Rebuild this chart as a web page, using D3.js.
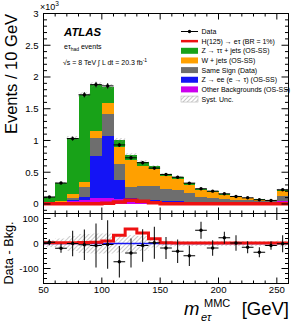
<!DOCTYPE html>
<html>
<head>
<meta charset="utf-8">
<script src="https://cdn.jsdelivr.net/npm/d3@7/dist/d3.min.js"></script>
<style>
body { margin: 0; background: #fff; }
text { font-family: "Liberation Sans", Arial, Helvetica, sans-serif; fill: #000; }
</style>
</head>
<body>
<svg id="chart" width="294" height="324"></svg>
<script>
// bins of m_etau (lower edges, 10 GeV wide), last bin holds the overflow
var binLow = [50, 60, 70, 80, 90, 100, 110, 120, 130, 140, 150, 160, 170, 180, 190, 200, 210, 220, 230, 240, 250];
var binWidth = 10;

// upper panel, events per bin
var dataCounts = [110, 330, 1030, 1720, 1880, 1860, 930, 727, 650, 565, 465, 422, 328, 240, 202, 160, 118, 97, 66, 55, 224];
var otherBkg   = [8, 12, 40, 70, 90, 100, 82, 60, 45, 40, 35, 32, 30, 27, 24, 22, 20, 18, 16, 14, 45];
var zeeBkg     = [2, 5, 15, 45, 670, 970, 290, 30, 20, 15, 10, 8, 6, 5, 4, 3, 3, 2, 2, 2, 6];
var sameSign   = [8, 15, 45, 157, 280, 340, 263, 175, 225, 225, 190, 180, 144, 78, 72, 60, 47, 40, 32, 29, 80];
var wjets      = [5, 15, 60, 68, 115, 185, 262, 430, 310, 270, 200, 178, 125, 108, 85, 61, 40, 30, 16, 10, 77];
var ztautau    = [85, 280, 880, 1380, 720, 255, 105, 70, 60, 45, 35, 30, 25, 20, 15, 12, 10, 8, 6, 5, 20];
var signal     = [3, 3, 3, 4, 5, 10, 33, 58, 42, 19, 3, 2, 2, 2, 2, 2, 2, 2, 2, 2, 2];
var systUnc    = [14, 20, 30, 38, 40, 40, 36, 34, 30, 16, 11, 11, 10, 10, 10, 10, 10, 10, 10, 10, 12];

// lower panel, data minus background
var diffValues = [5, -19, 0, -5, -8, -4, -73, -38, -8, 3, -18, -31, -49, 53, -18, 23, 2, -15, -35, -8, -1];
var diffErrors = [12, 18, 51, 61, 88, 97, 63, 58, 65, 64, 44, 47, 41, 34, 31, 24, 31, 24, 20, 17, 34];

var xTicks = [50, 100, 150, 200, 250];
var yTopTicks = [0, 500, 1000, 1500, 2000, 2500, 3000];
var yTopLabels = ['0', '0.5', '1', '1.5', '2', '2.5', '3'];
var yBotTicks = [-100, 0, 100];

var layers = ['other', 'zee', 'ss', 'wjets', 'ztt'];
var colors = { other: '#cc00ee', zee: '#1414f5', ss: '#6e6e6e', wjets: '#ffa000', ztt: '#18a218' };

var svg = d3.select('#chart');

var x = d3.scaleLinear().domain([50, 260]).range([43.5, 288.5]);
var yTop = d3.scaleLinear().domain([-150, 3000]).range([213.5, 13.5]);
var yBot = d3.scaleLinear().domain([-160, 120]).range([283.5, 213.5]);

var defs = svg.append('defs');
defs.append('pattern').attr('id', 'hatch').attr('width', 3).attr('height', 3)
  .attr('patternUnits', 'userSpaceOnUse').attr('patternTransform', 'rotate(45)')
  .append('line').attr('x1', 0).attr('y1', 0).attr('x2', 0).attr('y2', 3)
  .attr('stroke', '#777').attr('stroke-width', 0.8);
defs.append('clipPath').attr('id', 'clipTop').append('rect')
  .attr('x', 43.5).attr('y', 13.5).attr('width', 245).attr('height', 200);
defs.append('clipPath').attr('id', 'clipBot').append('rect')
  .attr('x', 43.5).attr('y', 213.5).attr('width', 245).attr('height', 70);

// ---- upper panel ----
var rows = binLow.map(function(b, i) {
  return { bin: b, other: otherBkg[i], zee: zeeBkg[i], ss: sameSign[i], wjets: wjets[i], ztt: ztautau[i] };
});
var stacked = d3.stack().keys(layers)(rows);
var upper = svg.append('g').attr('clip-path', 'url(#clipTop)');

upper.selectAll('g.layer').data(stacked).enter().append('g')
  .attr('class', 'layer')
  .attr('fill', function(d) { return colors[d.key]; })
  .selectAll('rect').data(function(d) { return d; }).enter().append('rect')
  .attr('x', function(d) { return x(d.data.bin); })
  .attr('width', function(d) { return x(d.data.bin + binWidth) - x(d.data.bin); })
  .attr('y', function(d) { return yTop(d[1]); })
  .attr('height', function(d) { return yTop(d[0]) - yTop(d[1]); })
  .attr('shape-rendering', 'crispEdges');

var totals = stacked[stacked.length - 1].map(function(d) { return d[1]; });

upper.selectAll('rect.syst').data(binLow).enter().append('rect')
  .attr('class', 'syst')
  .attr('x', function(b) { return x(b); })
  .attr('width', x(60) - x(50))
  .attr('y', function(b, i) { return yTop(totals[i] + systUnc[i]); })
  .attr('height', function(b, i) { return yTop(totals[i] - systUnc[i]) - yTop(totals[i] + systUnc[i]); })
  .attr('fill', 'url(#hatch)');

function stepLine(values, yScale) {
  var pts = [];
  binLow.forEach(function(b, i) {
    pts.push([x(b), yScale(values[i])]);
    pts.push([x(b + binWidth), yScale(values[i])]);
  });
  return d3.line()(pts);
}

upper.append('path').attr('d', stepLine(signal, yTop))
  .attr('fill', 'none').attr('stroke', '#ee1111').attr('stroke-width', 3.5);

function drawPoints(g, values, errors, yScale) {
  var pts = g.selectAll('g.pt').data(binLow).enter().append('g').attr('class', 'pt');
  pts.append('line')
    .attr('x1', function(b) { return x(b); })
    .attr('x2', function(b) { return x(b + binWidth); })
    .attr('y1', function(b, i) { return yScale(values[i]); })
    .attr('y2', function(b, i) { return yScale(values[i]); });
  pts.append('line')
    .attr('x1', function(b) { return x(b + binWidth / 2); })
    .attr('x2', function(b) { return x(b + binWidth / 2); })
    .attr('y1', function(b, i) { return yScale(values[i] - errors[i]); })
    .attr('y2', function(b, i) { return yScale(values[i] + errors[i]); });
  pts.selectAll('line').attr('stroke', '#000').attr('stroke-width', 1);
  pts.append('circle')
    .attr('cx', function(b) { return x(b + binWidth / 2); })
    .attr('cy', function(b, i) { return yScale(values[i]); })
    .attr('r', 1.7).attr('fill', '#000');
}

drawPoints(upper, dataCounts, dataCounts.map(function(n) { return Math.sqrt(n); }), yTop);

// ---- lower panel ----
var lower = svg.append('g').attr('clip-path', 'url(#clipBot)');
lower.selectAll('rect.syst').data(binLow).enter().append('rect')
  .attr('x', function(b) { return x(b); })
  .attr('width', x(60) - x(50))
  .attr('y', function(b, i) { return yBot(systUnc[i]); })
  .attr('height', function(b, i) { return yBot(-systUnc[i]) - yBot(systUnc[i]); })
  .attr('fill', 'url(#hatch)');
lower.append('line').attr('x1', x(50)).attr('x2', x(260)).attr('y1', yBot(0)).attr('y2', yBot(0))
  .attr('stroke', '#1414f5').attr('stroke-width', 1.5);
lower.append('path').attr('d', stepLine(signal, yBot))
  .attr('fill', 'none').attr('stroke', '#ee1111').attr('stroke-width', 3);
drawPoints(lower, diffValues, diffErrors, yBot);

// ---- frames and ticks ----
function frame(y0, y1) {
  svg.append('rect').attr('x', 43.5).attr('y', y0).attr('width', 245).attr('height', y1 - y0)
    .attr('fill', 'none').attr('stroke', '#000').attr('stroke-width', 1);
}
frame(13.5, 213.5);
frame(213.5, 283.5);

var tickG = svg.append('g').attr('stroke', '#000').attr('stroke-width', 1);
function xTicksAt(yEdge, dir) {
  d3.range(50, 261, 10).forEach(function(v) {
    var len = v % 50 === 0 ? 6 : 3;
    tickG.append('line').attr('x1', x(v)).attr('x2', x(v))
      .attr('y1', yEdge).attr('y2', yEdge + dir * len);
  });
}
xTicksAt(13.5, 1);
xTicksAt(213.5, -1);
xTicksAt(214, 1);
xTicksAt(283.5, -1);

function yTicksAt(scale, lo, hi, step, majorStep) {
  d3.range(lo, hi + 1, step).forEach(function(v) {
    var len = v % majorStep === 0 ? 7 : 3.5;
    tickG.append('line').attr('x1', 43.5).attr('x2', 43.5 + len).attr('y1', scale(v)).attr('y2', scale(v));
    tickG.append('line').attr('x1', 288.5).attr('x2', 288.5 - len).attr('y1', scale(v)).attr('y2', scale(v));
  });
}
yTicksAt(yTop, -100, 3000, 100, 500);
yTicksAt(yBot, -160, 120, 20, 100);

svg.selectAll('text.ytop').data(yTopTicks).enter().append('text')
  .attr('x', 38.5).attr('y', function(v) { return yTop(v) + 3.4; })
  .attr('text-anchor', 'end').style('font-size', '9.6px')
  .text(function(v, i) { return yTopLabels[i]; });
svg.append('text').attr('x', 40).attr('y', 10).style('font-size', '9px')
  .html('&#215;10<tspan dy="-4" style="font-size:6.5px">3</tspan>');

svg.selectAll('text.ybot').data(yBotTicks).enter().append('text')
  .attr('x', 38.5).attr('y', function(v) { return yBot(v) + 3.4; })
  .attr('text-anchor', 'end').style('font-size', '9.6px')
  .text(function(v) { return v; });

svg.selectAll('text.xlab').data(xTicks).enter().append('text')
  .attr('x', function(v) { return x(v); }).attr('y', 293)
  .attr('text-anchor', 'middle').style('font-size', '9.6px')
  .text(function(v) { return v; });

// axis titles
svg.append('text').attr('transform', 'translate(17,74) rotate(-90)')
  .attr('text-anchor', 'middle').style('font-size', '16.5px').text('Events / 10 GeV');
svg.append('text').attr('transform', 'translate(12.5,253) rotate(-90)')
  .attr('text-anchor', 'middle').style('font-size', '12.6px').text('Data - Bkg.');
svg.append('text').attr('x', 184).attr('y', 315).style('font-size', '18.5px').style('font-style', 'italic').text('m');
svg.append('text').attr('x', 201).attr('y', 321).style('font-size', '11px').style('font-style', 'italic').text('eτ');
svg.append('text').attr('x', 204).attr('y', 307).style('font-size', '11px').text('MMC');
svg.append('text').attr('x', 289).attr('y', 315).attr('text-anchor', 'end').style('font-size', '18.5px').text('[GeV]');

// labels
svg.append('text').attr('x', 64).attr('y', 36).style('font-size', '11.4px')
  .style('font-weight', 'bold').style('font-style', 'italic').text('ATLAS');
svg.append('text').attr('x', 64).attr('y', 49).style('font-size', '7px')
  .html('eτ<tspan dy="1.5" style="font-size:5px">had</tspan><tspan dy="-1.5"> events</tspan>');
svg.append('text').attr('x', 63).attr('y', 65).style('font-size', '7px')
  .html('√s = 8 TeV   ∫ L dt = 20.3 fb<tspan dy="-3" style="font-size:5px">-1</tspan>');

// legend
var legendLabels = ['Data', 'H(125) → eτ (BR = 1%)', 'Z → ττ + jets (OS-SS)', 'W + jets (OS-SS)',
  'Same Sign (Data)', 'Z → ee (e → τ) (OS-SS)', 'Other Backgrounds (OS-SS)', 'Syst. Unc.'];
var legendKinds = ['data', 'line', 'ztt', 'wjets', 'ss', 'zee', 'other', 'syst'];
var leg = svg.append('g');
legendLabels.forEach(function(label, i) {
  var yc = 31.5 + i * 9.65;
  var k = legendKinds[i];
  if (k === 'data') {
    leg.append('line').attr('x1', 181).attr('x2', 198).attr('y1', yc).attr('y2', yc).attr('stroke', '#000');
    leg.append('circle').attr('cx', 189.5).attr('cy', yc).attr('r', 1.7).attr('fill', '#000');
  } else if (k === 'line') {
    leg.append('line').attr('x1', 181).attr('x2', 198).attr('y1', yc).attr('y2', yc)
      .attr('stroke', '#ee1111').attr('stroke-width', 2.5);
  } else if (k === 'syst') {
    leg.append('rect').attr('x', 181).attr('y', yc - 3).attr('width', 17).attr('height', 6)
      .attr('fill', 'url(#hatch)').attr('stroke', '#aaa').attr('stroke-width', 0.5);
  } else {
    leg.append('rect').attr('x', 181).attr('y', yc - 3).attr('width', 17).attr('height', 6)
      .attr('fill', colors[k]);
  }
  leg.append('text').attr('x', 201.5).attr('y', yc + 2.5).style('font-size', '7px').text(label);
});
</script>
</body>
</html>
